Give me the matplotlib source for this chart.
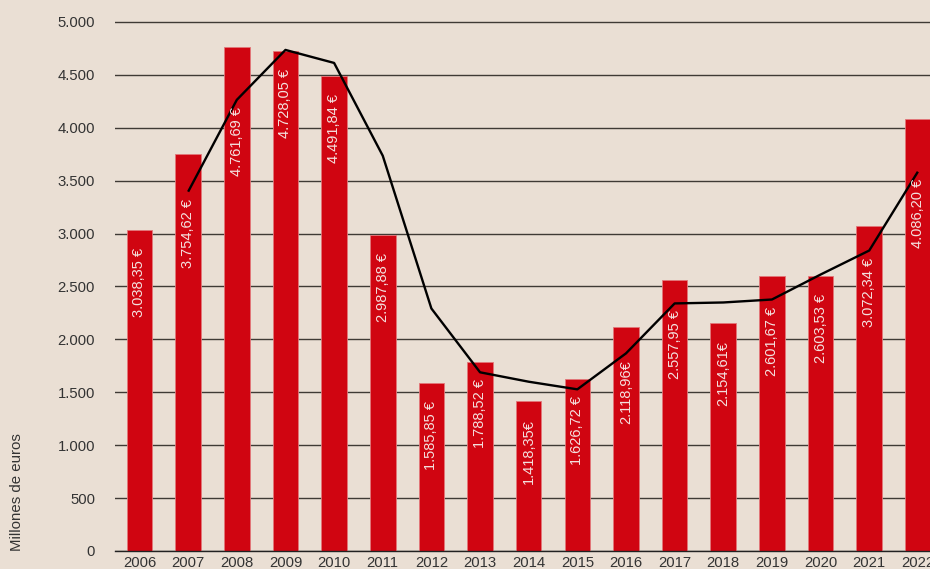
import matplotlib
matplotlib.use("Agg")
import matplotlib.pyplot as plt

plt.rcParams['font.family'] = ['Liberation Sans', 'DejaVu Sans']

years = ["2006", "2007", "2008", "2009", "2010", "2011", "2012", "2013", "2014",
         "2015", "2016", "2017", "2018", "2019", "2020", "2021", "2022"]
values = [3038.35, 3754.62, 4761.69, 4728.05, 4491.84, 2987.88, 1585.85, 1788.52,
          1418.35, 1626.72, 2118.96, 2557.95, 2154.61, 2601.67, 2603.53, 3072.34, 4086.20]
bar_labels = ["3.038,35 €", "3.754,62 €", "4.761,69 €", "4.728,05 €", "4.491,84 €",
              "2.987,88 €", "1.585,85 €", "1.788,52 €", "1.418,35€", "1.626,72 €",
              "2.118,96€", "2.557,95 €", "2.154,61€", "2.601,67 €", "2.603,53 €",
              "3.072,34 €", "4.086,20 €"]
# trend line, starting 2007
trend_years = years[1:]
trend = [3396, 4264, 4736, 4613, 3736, 2292, 1689, 1600, 1528, 1868, 2340,
         2349, 2377, 2613, 2840, 3585]
yticks = [0, 500, 1000, 1500, 2000, 2500, 3000, 3500, 4000, 4500, 5000]
ytick_labels = ["0", "500", "1.000", "1.500", "2.000", "2.500", "3.000",
                "3.500", "4.000", "4.500", "5.000"]

BG = '#EADFD4'
RED = '#D00511'
W, H = 930, 569
fig = plt.figure(figsize=(W / 100, H / 100), dpi=100, facecolor=BG)
ax = fig.add_axes([115 / W, 18 / H, (W - 115) / W, 534.3 / H], facecolor=BG)

x = list(range(len(years)))
ax.bar(x, values, width=0.526, color=RED, edgecolor='#E2777A', linewidth=0.6, zorder=2)
tx = [years.index(y) for y in trend_years]
ax.plot(tx, trend, color='black', lw=1.7, zorder=4, solid_capstyle='butt')

tdict = dict(zip(tx, trend))
for i, (v, lab) in enumerate(zip(values, bar_labels)):
    t = tdict.get(i)
    if t is not None and t < v:
        y0, off = t, -5
    else:
        y0, off = v, -13
    ax.annotate(lab, xy=(i, y0), xytext=(0, off), textcoords='offset points',
                rotation=90, ha='center', va='top', color='#F4E1DF',
                fontsize=10.5, zorder=5, annotation_clip=False)

ax.set_xlim(-0.5036, 16.249)
ax.set_ylim(0, 5050)
ax.set_yticks(yticks)
ax.set_yticklabels(ytick_labels)
ax.set_xticks(x)
ax.set_xticklabels(years)
ax.yaxis.grid(True, color='#3f3a35', lw=1.0, zorder=0)
ax.set_axisbelow(True)
for s in ['top', 'right', 'left']:
    ax.spines[s].set_visible(False)
ax.spines['bottom'].set_color('#222222')
ax.spines['bottom'].set_linewidth(1.0)
ax.tick_params(axis='y', length=0, pad=14.4, labelsize=10.7, labelcolor='#333333')
ax.tick_params(axis='x', length=0, pad=3.5, labelsize=10.7, labelcolor='#333333')

fig.text(17 / W, 1 - 492.5 / H, "Millones de euros", rotation=90, ha='center',
         va='center', fontsize=10.8, color='#333333')

fig.savefig("out.png", dpi=100, facecolor=BG)
